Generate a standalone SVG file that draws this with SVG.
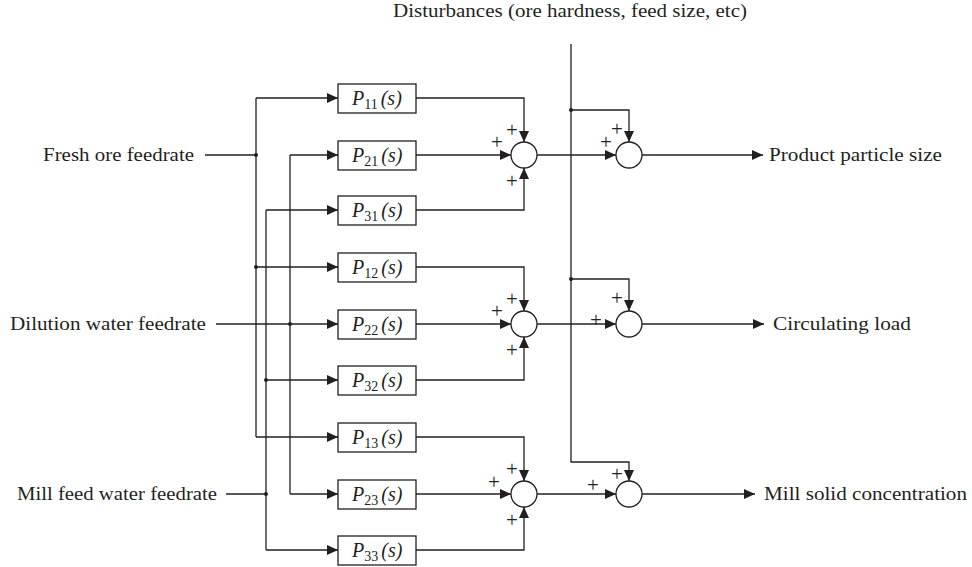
<svg xmlns="http://www.w3.org/2000/svg" width="972" height="567" viewBox="0 0 972 567">
<style>
text{font-family:"Liberation Serif","DejaVu Serif",serif;fill:#231f20}
.lbl{font-size:18.5px}
.pl{font-size:21px;text-anchor:middle;opacity:0.99}
.box{fill:#fff;stroke:#231f20;stroke-width:1.3}
.bt{font-size:20px;font-style:italic}
.sub{font-size:14px;font-style:normal}
.ln{fill:none;stroke:#231f20;stroke-width:1.3}
.ar{marker-end:url(#ah)}
.dot{fill:#231f20}
.sum{fill:#fff;stroke:#231f20;stroke-width:1.3}
</style>
<defs>
<marker id="ah" markerUnits="userSpaceOnUse" markerWidth="12" markerHeight="10" refX="11" refY="5" orient="auto">
<path d="M0,0 L11,5 L0,10 Z" fill="#231f20"/>
</marker>
</defs>
<rect width="972" height="567" fill="#fff"/>

<g id="connectors">
<path class="ln" d="M205,155 H256"/>
<path class="ln" d="M256,98 V437"/>
<path class="ln ar" d="M256,98 H338"/>
<path class="ln ar" d="M256,267 H338"/>
<path class="ln ar" d="M256,437 H338"/>
<circle class="dot" cx="256" cy="155" r="2"/>
<circle class="dot" cx="256" cy="267" r="2"/>
<path class="ln" d="M216,324 H290"/>
<path class="ln" d="M290,155 V494"/>
<path class="ln ar" d="M290,155 H338"/>
<path class="ln ar" d="M290,324 H338"/>
<path class="ln ar" d="M290,494 H338"/>
<circle class="dot" cx="290" cy="324" r="2"/>
<path class="ln" d="M226,494 H266"/>
<path class="ln" d="M266,210 V550"/>
<path class="ln ar" d="M266,210 H338"/>
<path class="ln ar" d="M266,380 H338"/>
<path class="ln ar" d="M266,550 H338"/>
<circle class="dot" cx="266" cy="494" r="2"/>
<circle class="dot" cx="266" cy="380" r="2"/>
<path class="ln ar" d="M416,98 H524 V142"/>
<path class="ln ar" d="M416,155 H511"/>
<path class="ln ar" d="M416,210 H524 V168"/>
<path class="ln ar" d="M537,155 H616"/>
<path class="ln ar" d="M416,267 H524 V311"/>
<path class="ln ar" d="M416,324 H511"/>
<path class="ln ar" d="M416,380 H524 V337"/>
<path class="ln ar" d="M537,324 H616"/>
<path class="ln ar" d="M416,437 H524 V481"/>
<path class="ln ar" d="M416,494 H511"/>
<path class="ln ar" d="M416,550 H524 V507"/>
<path class="ln ar" d="M537,494 H616"/>
<path class="ln ar" d="M571,44 V462 H629 V481"/>
<path class="ln ar" d="M571,110 H629 V142"/>
<path class="ln ar" d="M571,279 H629 V311"/>
<circle class="dot" cx="571" cy="110" r="2"/>
<circle class="dot" cx="571" cy="279" r="2"/>
<path class="ln ar" d="M642,155 H763"/>
<path class="ln ar" d="M642,324 H764"/>
<path class="ln ar" d="M642,494 H755"/>
</g>

<g id="P11"><rect class="box" x="338" y="84" width="78" height="29"/><text class="bt" x="352" y="105">P<tspan class="sub" dy="4">11</tspan><tspan dy="-4" dx="3">(s)</tspan></text></g>
<g id="P21"><rect class="box" x="338" y="141" width="78" height="29"/><text class="bt" x="352" y="162">P<tspan class="sub" dy="4">21</tspan><tspan dy="-4" dx="3">(s)</tspan></text></g>
<g id="P31"><rect class="box" x="338" y="196" width="78" height="29"/><text class="bt" x="352" y="217">P<tspan class="sub" dy="4">31</tspan><tspan dy="-4" dx="3">(s)</tspan></text></g>
<g id="P12"><rect class="box" x="338" y="253" width="78" height="29"/><text class="bt" x="352" y="274">P<tspan class="sub" dy="4">12</tspan><tspan dy="-4" dx="3">(s)</tspan></text></g>
<g id="P22"><rect class="box" x="338" y="310" width="78" height="29"/><text class="bt" x="352" y="331">P<tspan class="sub" dy="4">22</tspan><tspan dy="-4" dx="3">(s)</tspan></text></g>
<g id="P32"><rect class="box" x="338" y="366" width="78" height="29"/><text class="bt" x="352" y="387">P<tspan class="sub" dy="4">32</tspan><tspan dy="-4" dx="3">(s)</tspan></text></g>
<g id="P13"><rect class="box" x="338" y="423" width="78" height="29"/><text class="bt" x="352" y="444">P<tspan class="sub" dy="4">13</tspan><tspan dy="-4" dx="3">(s)</tspan></text></g>
<g id="P23"><rect class="box" x="338" y="480" width="78" height="29"/><text class="bt" x="352" y="501">P<tspan class="sub" dy="4">23</tspan><tspan dy="-4" dx="3">(s)</tspan></text></g>
<g id="P33"><rect class="box" x="338" y="536" width="78" height="29"/><text class="bt" x="352" y="557">P<tspan class="sub" dy="4">33</tspan><tspan dy="-4" dx="3">(s)</tspan></text></g>

<g id="S11"><circle class="sum" cx="524" cy="155" r="13"/><text class="pl" x="512" y="137">+</text><text class="pl" x="497" y="149">+</text><text class="pl" x="512" y="188">+</text></g>
<g id="S12"><circle class="sum" cx="629" cy="155" r="13"/><text class="pl" x="606" y="149">+</text><text class="pl" x="617" y="136">+</text></g>
<g id="S21"><circle class="sum" cx="524" cy="324" r="13"/><text class="pl" x="512" y="306">+</text><text class="pl" x="497" y="318">+</text><text class="pl" x="512" y="357">+</text></g>
<g id="S22"><circle class="sum" cx="629" cy="324" r="13"/><text class="pl" x="596" y="327">+</text><text class="pl" x="617" y="305">+</text></g>
<g id="S31"><circle class="sum" cx="524" cy="494" r="13"/><text class="pl" x="512" y="476">+</text><text class="pl" x="494" y="489">+</text><text class="pl" x="512" y="527">+</text></g>
<g id="S32"><circle class="sum" cx="629" cy="494" r="13"/><text class="pl" x="593" y="492">+</text><text class="pl" x="617" y="481">+</text></g>

<g id="in1"><text class="lbl" x="43" y="161" textLength="151" lengthAdjust="spacingAndGlyphs">Fresh ore feedrate</text></g>
<g id="in2"><text class="lbl" x="10" y="330" textLength="196" lengthAdjust="spacingAndGlyphs">Dilution water feedrate</text></g>
<g id="in3"><text class="lbl" x="17" y="500" textLength="200" lengthAdjust="spacingAndGlyphs">Mill feed water feedrate</text></g>
<g id="out1"><text class="lbl" x="769" y="161" textLength="173" lengthAdjust="spacingAndGlyphs">Product particle size</text></g>
<g id="out2"><text class="lbl" x="773" y="330" textLength="138" lengthAdjust="spacingAndGlyphs">Circulating load</text></g>
<g id="out3"><text class="lbl" x="764" y="500" textLength="203" lengthAdjust="spacingAndGlyphs">Mill solid concentration</text></g>
<g id="dist"><text class="lbl" x="393" y="17" textLength="354" lengthAdjust="spacingAndGlyphs">Disturbances (ore hardness, feed size, etc)</text></g>
</svg>
